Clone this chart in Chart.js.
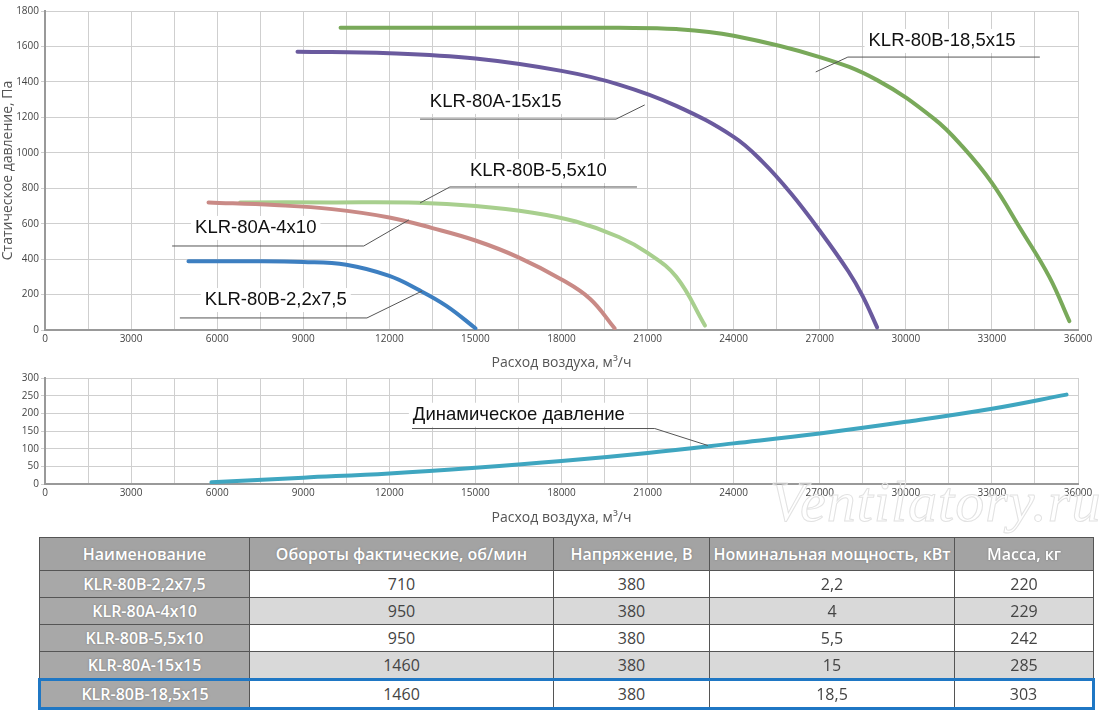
<!DOCTYPE html>
<html><head><meta charset="utf-8">
<script src="https://cdn.jsdelivr.net/npm/chart.js@4/dist/chart.umd.min.js"></script>
<style>
body{margin:0;background:#fff;width:1100px;height:717px;overflow:hidden;position:relative;font-family:"Liberation Sans",sans-serif}
#c1{position:absolute;left:0;top:0}
#c2{position:absolute;left:0;top:370px}
#wm{position:absolute;left:770px;top:468px;font:italic 58px "Liberation Serif",serif;color:transparent;-webkit-text-stroke:1px #e2e2e2;letter-spacing:1px}
table{position:absolute;left:38px;top:537px;border-collapse:collapse;table-layout:fixed;font-family:"Open Sans",sans-serif;font-size:16px;color:#444}
td,th{border:1.5px solid #555;padding:0;text-align:center;line-height:20px;overflow:hidden;white-space:nowrap}
th{background:#a3a3a3;color:#fff;font-weight:600;text-shadow:0 0 2px #777;height:32px}
td{height:26px}
td.n{background:#a8a8a8;color:#fff;font-weight:600;text-shadow:0 0 2px #777}
tr.g td{background:#d9d9d9}
tr.g td.n{background:#a8a8a8}
tr.last td{border-top:3px solid #1f77c4;border-bottom:3px solid #1f77c4}
tr.last td:first-child{border-left:3px solid #1f77c4}
tr.last td:last-child{border-right:3px solid #1f77c4}
</style></head><body>
<canvas id="c1" width="1100" height="375"></canvas>
<canvas id="c2" width="1100" height="160"></canvas>
<div id="wm">Ventilatory.ru</div>
<table id="tb"></table>
<script>
const names=["KLR-80B-2,2x7,5","KLR-80A-4x10","KLR-80B-5,5x10","KLR-80A-15x15","KLR-80B-18,5x15"];
const colors=["#3d7fc1","#c98a86","#a8cf8e","#6a5a9e","#79a95a"];
const s1=[[5000,388],[7000,388],[9000,384],[10500,368],[12000,305],[13000,228],[14000,135],[15000,10]];
const s2=[[5700,720],[8000,705],[10000,682],[12000,635],[13500,575],[15000,505],[16500,410],[18000,285],[19000,175],[19850,10]];
const s3=[[6800,720],[10000,720],[13000,718],[15000,700],[17000,662],[18500,612],[20000,525],[21000,435],[22000,300],[23000,25]];
const s4=[[8800,1570],[12000,1562],[15000,1532],[18000,1462],[20000,1385],[22000,1265],[24000,1090],[25000,950],[26000,770],[27000,560],[28000,330],[28500,190],[29000,15]];
const s5=[[10300,1705],[16000,1705],[20000,1705],[22000,1698],[24000,1660],[27000,1540],[29000,1410],[31000,1190],[32000,1030],[33000,830],[34000,570],[35000,300],[35700,50]];
const dyn=[[5800,5],[9000,18],[12000,30],[15000,46],[18000,65],[21000,88],[24000,115],[27000,143],[30000,176],[33000,213],[35600,253]];
const labels1=[
 {t:"KLR-80B-18,5x15",tx:28700,ty:1631,ly:1540,x1:27980,x2:34670,px:26860,py:1456,from:"l"},
 {t:"KLR-80A-15x15",tx:13410,ty:1287,ly:1190,x1:13070,x2:19900,px:20900,py:1270,from:"r"},
 {t:"KLR-80B-5,5x10",tx:14810,ty:897,ly:807,x1:14110,x2:20630,px:13070,py:717,from:"l"},
 {t:"KLR-80A-4x10",tx:5230,ty:576,ly:474,x1:4430,x2:11110,px:12680,py:621,from:"r"},
 {t:"KLR-80B-2,2x7,5",tx:5570,ty:169,ly:68,x1:4700,x2:11220,px:13140,py:220,from:"r"}];
const labels2=[{t:"Динамическое давление",tx:12820,ty:196,ly:157,x1:12790,x2:21250,px:23100,py:109,from:"r"}];
const rows=[["KLR-80B-2,2x7,5","710","380","2,2","220"],["KLR-80A-4x10","950","380","4","229"],["KLR-80B-5,5x10","950","380","5,5","242"],["KLR-80A-15x15","1460","380","15","285"],["KLR-80B-18,5x15","1460","380","18,5","303"]];
const heads=["Наименование","Обороты фактические, об/мин","Напряжение, В","Номинальная мощность, кВт","Масса, кг"];
const widths=[210,304,156,245,139];

const pts=a=>a.map(p=>({x:p[0],y:p[1]}));
const leader=(defs)=>({id:'lead',afterDatasetsDraw(ch){const c=ch.ctx,x=ch.scales.x,y=ch.scales.y;c.save();
 defs.forEach(d=>{const X1=x.getPixelForValue(d.x1),X2=x.getPixelForValue(d.x2),LY=y.getPixelForValue(d.ly);
  const TX=x.getPixelForValue(d.tx),TY=y.getPixelForValue(d.ty);
  c.font='18.5px "Liberation Sans"';const w=c.measureText(d.t).width;
  c.fillStyle='#fff';c.fillRect(TX-4,TY-12,w+8,24);
  c.strokeStyle='#555';c.lineWidth=1;c.beginPath();c.moveTo(X1,LY);c.lineTo(X2,LY);
  const sx=d.from=="l"?X1:X2;c.moveTo(sx,LY);c.lineTo(x.getPixelForValue(d.px),y.getPixelForValue(d.py));c.stroke();
  c.fillStyle='#111';c.textBaseline='middle';c.fillText(d.t,TX,TY);});c.restore();}});
const xScale=(h)=>({type:'linear',min:0,max:36000,
 ticks:{stepSize:1500,autoSkip:false,maxRotation:0,color:'#444',font:{size:10,family:'"Open Sans"'},callback:v=>v%3000===0?String(v):''},
 grid:{color:'#cfcfcf',drawTicks:false},border:{color:'#999',width:2},
 title:{display:true,text:'Расход воздуха, м³/ч',color:'#555',font:{size:14,family:'"Open Sans"'},padding:{top:6}},
 afterFit:s=>{s.height=h;}});
const yScale=(max,step,title)=>({min:0,max:max,ticks:{stepSize:step,color:'#444',font:{size:10,family:'"Open Sans"'},padding:2,callback:v=>String(v)},
 grid:{color:'#cfcfcf',tickLength:4},border:{color:'#999',width:2},
 title:{display:!!title,text:title||'',color:'#555',font:{size:14,family:'"Open Sans"'},padding:0},afterFit:s=>{s.width=45;}});
const base={responsive:false,animation:false,plugins:{legend:{display:false},tooltip:{enabled:false}},
 elements:{point:{radius:0},line:{borderWidth:4,tension:0.4,borderCapStyle:'round'}}};

new Chart(document.getElementById('c1'),{type:'line',
 data:{datasets:[s1,s2,s3,s4,s5].map((s,i)=>({label:names[i],data:pts(s),borderColor:colors[i]}))},
 options:{...base,layout:{padding:{top:11,right:22}},
  scales:{x:xScale(45),y:yScale(1800,200,'Статическое давление, Па')}},
 plugins:[leader(labels1)]});
new Chart(document.getElementById('c2'),{type:'line',
 data:{datasets:[{label:'Динамическое давление',data:pts(dyn),borderColor:'#3fa6c0'}]},
 options:{...base,layout:{padding:{top:7,right:22}},
  scales:{x:xScale(46),y:yScale(300,50,'')}},
 plugins:[leader(labels2)]});

const tb=document.getElementById('tb');
let h='<colgroup>'+widths.map(w=>`<col style="width:${w}px">`).join('')+'</colgroup><tr>'+heads.map(t=>`<th>${t}</th>`).join('')+'</tr>';
rows.forEach((r,i)=>{h+=`<tr class="${i%2?'g':''}${i==4?' last':''}">`+r.map((v,j)=>`<td class="${j==0?'n':''}">${v}</td>`).join('')+'</tr>';});
tb.innerHTML=h;
tb.style.width=widths.reduce((a,b)=>a+b,0)+'px';
</script></body></html>
